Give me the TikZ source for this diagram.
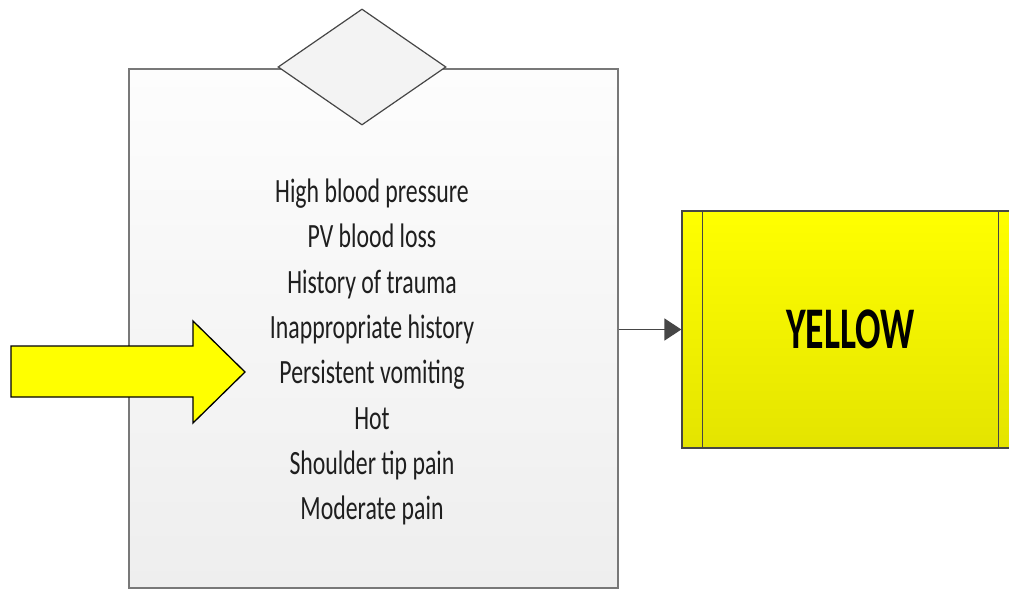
\documentclass[tikz,border=0pt]{standalone}
\usepackage{fontspec}
\setmainfont{Carlito}
\newfontfamily\condfont[FakeStretch=0.70]{Carlito}
\newfontfamily\condboldfont[FakeStretch=0.64]{Carlito Bold}
\usetikzlibrary{shapes.geometric,arrows.meta}
\definecolor{boxline}{RGB}{120,120,120}
\definecolor{darkline}{RGB}{70,70,70}
\definecolor{boxtop}{RGB}{253,253,253}
\definecolor{boxbot}{RGB}{238,238,238}
\definecolor{yeltop}{RGB}{255,255,0}
\definecolor{yelbot}{RGB}{228,228,0}
\definecolor{diafill}{RGB}{243,243,243}
\tikzset{
  mainbox/.style={draw=boxline, line width=1.8pt, top color=boxtop, bottom color=boxbot, inner sep=0pt},
  decision/.style={diamond, draw=darkline, line width=1.2pt, fill=diafill, inner sep=0pt},
  yelbox/.style={draw=darkline, line width=1.3pt, top color=yeltop, bottom color=yelbot, inner sep=0pt},
  itemtext/.style={align=center, text=black!88, font=\condfont\fontsize{34}{45.3}\selectfont},
  conn/.style={-{Triangle[length=17pt,width=22pt]}, line width=1.6pt, draw=darkline},
}
\begin{document}
\begin{tikzpicture}[x=1pt,y=-1pt]
\useasboundingbox (0,0) rectangle (1009,591);
\fill[white] (0,0) rectangle (1009,591);
% main box
\node[mainbox, minimum width=489pt, minimum height=519pt, anchor=north west] (box) at (128,68) {};
% decision diamond on top edge
\node[decision, minimum width=168pt, minimum height=116pt, aspect=1.45] (dec) at (362,67) {};
% list of items
\node[itemtext] (items) at (372,352) {High blood pressure\\PV blood loss\\History of trauma\\Inappropriate history\\Persistent vomiting\\Hot\\Shoulder tip pain\\Moderate pain};
% yellow process box (cut at the right edge)
\begin{scope}
\clip (0,0) rectangle (1009,591);
\node[yelbox, minimum width=337pt, minimum height=237pt] (yel) at (850.5,329.5) {};
\draw[darkline, line width=1.3pt] ([xshift=21pt]yel.north west) -- ([xshift=21pt]yel.south west);
\draw[darkline, line width=1.3pt] ([xshift=-21pt]yel.north east) -- ([xshift=-21pt]yel.south east);
\end{scope}
\node[font=\condboldfont\fontsize{59}{60}\selectfont, text=black] (ylabel) at (850.5,329) {YELLOW};
% connector
\draw[conn] (box.east |- yel.west) -- (yel.west);
% yellow block arrow
\draw[black, line width=1.3pt, fill=yeltop, line join=miter]
  (11,346) -- (193,346) -- (193,321) -- (245,372) -- (193,423) -- (193,397) -- (11,397) -- cycle;
\end{tikzpicture}
\end{document}
